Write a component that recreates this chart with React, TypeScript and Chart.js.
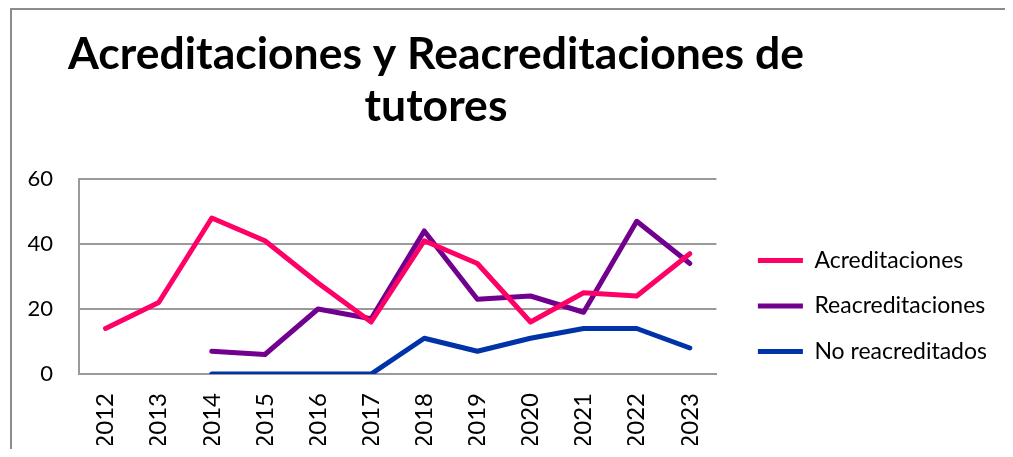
import React, { useEffect, useRef } from "react";
import { Chart, registerables } from "chart.js";

Chart.register(...registerables);

const years = ["2012", "2013", "2014", "2015", "2016", "2017", "2018", "2019", "2020", "2021", "2022", "2023"];
const acreditaciones = [14, 22, 48, 41, 28, 16, 41, 34, 16, 25, 24, 37];
const reacreditaciones = [null, null, 7, 6, 20, 17, 44, 23, 24, 19, 47, 34];
const noReacreditados = [null, null, 0, 0, 0, 0, 11, 7, 11, 14, 14, 8];
const seriesNames = ["Acreditaciones", "Reacreditaciones", "No reacreditados"];
const seriesColors = ["#FF0066", "#71008F", "#0033A8"];
const titleLines = ["Acreditaciones y Reacreditaciones de", "tutores"];
const yMin = 0;
const yMax = 60;
const yStep = 20;

const GRID = "#9a9a9a";
const FONT = "Lato";

const titlePlugin = {
  id: "customTitle",
  afterDraw(chart: any) {
    const ctx = chart.ctx;
    ctx.save();
    ctx.font = `bold 44.5px ${FONT}`;
    ctx.fillStyle = "#000000";
    ctx.textAlign = "center";
    ctx.textBaseline = "alphabetic";
    titleLines.forEach((line, i) => {
      ctx.fillText(line, 424, 59 + i * 52);
    });
    ctx.restore();
  },
};

export default function App() {
  const canvasRef = useRef<HTMLCanvasElement | null>(null);

  useEffect(() => {
    if (!canvasRef.current) return;
    const seriesData = [acreditaciones, reacreditaciones, noReacreditados];
    const chart = new Chart(canvasRef.current, {
      type: "line",
      data: {
        labels: years,
        datasets: seriesNames.map((name, i) => ({
          label: name,
          data: seriesData[i],
          borderColor: seriesColors[i],
          backgroundColor: seriesColors[i],
          borderWidth: 5,
          pointRadius: 0,
          pointHoverRadius: 0,
          tension: 0,
          borderCapStyle: "round",
          borderJoinStyle: "round",
          spanGaps: false,
          fill: false,
          pointStyle: "line",
        })),
      },
      plugins: [titlePlugin],
      options: {
        animation: false,
        responsive: false,
        maintainAspectRatio: false,
        layout: { padding: { top: 157, bottom: 4, left: 14, right: 14 } },
        plugins: {
          title: { display: false },
          subtitle: {
            display: true,
            text: "",
            padding: 0,
            font: { size: 10, lineHeight: 1.2 },
          },
          tooltip: { enabled: false },
          legend: {
            display: true,
            position: "right",
            maxWidth: 400,
            labels: {
              usePointStyle: true,
              pointStyleWidth: 45,
              boxHeight: 23,
              padding: 22.5,
              color: "#000000",
              font: { family: FONT, size: 23 },
            },
          },
        },
        scales: {
          x: {
            type: "category",
            offset: true,
            grid: { display: false, drawTicks: false },
            border: { display: true, color: GRID, width: 2 },
            ticks: {
              minRotation: 90,
              maxRotation: 90,
              padding: 19,
              color: "#000000",
              font: { family: FONT, size: 24 },
            },
            afterFit: (scale: any) => {
              scale.height = 71;
            },
          },
          y: {
            type: "linear",
            min: yMin,
            max: yMax,
            grid: { display: true, color: GRID, lineWidth: 2, drawTicks: false },
            border: { display: true, color: GRID, width: 2 },
            ticks: {
              stepSize: yStep,
              padding: 26,
              color: "#000000",
              font: { family: FONT, size: 22 },
            },
            afterFit: (scale: any) => {
              scale.width = 53;
            },
          },
          yRightSpacer: {
            type: "linear",
            position: "right",
            display: true,
            grid: { display: false, drawTicks: false },
            border: { display: false },
            ticks: { display: false },
            afterFit: (scale: any) => {
              scale.width = 19;
            },
          },
        },
      },
    });
    return () => chart.destroy();
  }, []);

  return (
    <div
      style={{
        marginLeft: 2,
        marginBottom: -8,
        borderLeft: "2px solid #8c8c8c",
        borderTop: "2px solid #8c8c8c",
        width: 999,
        height: 447,
      }}
    >
      <canvas ref={canvasRef} width={999} height={439} style={{ display: "block", width: 999, height: 439 }} />
    </div>
  );
}
